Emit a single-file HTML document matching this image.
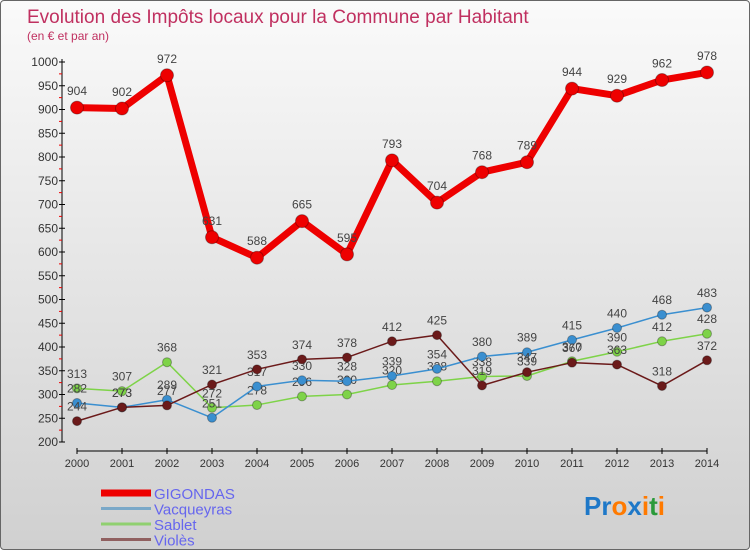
<!DOCTYPE html>
<html><head><meta charset="utf-8"><style>
body{margin:0}
#w{width:748px;height:548px;border:1px solid #666;border-radius:4px;overflow:hidden;background:linear-gradient(#fafafa,#d0d0d0);position:relative;font-family:"Liberation Sans",sans-serif}
</style></head><body>
<div id="w">
<svg id="s" width="748" height="548" xmlns="http://www.w3.org/2000/svg"></svg>
</div>
<script>
const years=["2000","2001","2002","2003","2004","2005","2006","2007","2008","2009","2010","2011","2012","2013","2014"];
const gigondas=[904,902,972,631,588,665,595,793,704,768,789,944,929,962,978];
const vacqueyras=[282,273,289,251,317,330,328,339,354,380,389,415,440,468,483];
const sablet=[313,307,368,272,278,296,300,320,328,338,339,370,390,412,428];
const violes=[244,273,277,321,353,374,378,412,425,319,347,367,363,318,372];
const yTicks=[200,250,300,350,400,450,500,550,600,650,700,750,800,850,900,950,1000];
const NS="http://www.w3.org/2000/svg";
const s=document.getElementById('s');
const X=i=>76+i*45, Y=v=>441-(v-200)*0.475;
function mk(t,a,p){const e=document.createElementNS(NS,t);for(const k in a)e.setAttribute(k,a[k]);(p||s).appendChild(e);return e;}
let t=mk('text',{x:26,y:22,'font-size':19,fill:'#c03060'});t.textContent='Evolution des Impôts locaux pour la Commune par Habitant';

t=mk('text',{x:26,y:39,'font-size':12,fill:'#c03060'});t.textContent='(en € et par an)';

// y axis
let ax=mk('line',{x1:61,y1:58,x2:61,y2:441,stroke:'#000'});
yTicks.forEach(v=>{mk('line',{x1:58,y1:Y(v),x2:64,y2:Y(v),stroke:'#000'});
 if(v<1000)mk('line',{x1:58,y1:Y(v+25),x2:61,y2:Y(v+25),stroke:'#e00'});
 const l=mk('text',{x:57,y:Y(v)+4,'font-size':12,fill:'#333','text-anchor':'end'});l.textContent=v;
 });
ax=mk('line',{x1:76,y1:450,x2:706,y2:450,stroke:'#000'});
years.forEach((y,i)=>{mk('line',{x1:X(i),y1:447,x2:X(i),y2:453,stroke:'#000'});
 const l=mk('text',{x:X(i),y:466,'font-size':11,fill:'#333','text-anchor':'middle'});l.textContent=y;
 });
function series(d,c,w,r,name){
 const g=mk('g',{});
 mk('polyline',{points:d.map((v,i)=>X(i)+','+Y(v)).join(' '),fill:'none',stroke:c,'stroke-width':w,'stroke-linejoin':'round'},g);
 d.forEach((v,i)=>{const p=mk('circle',{cx:X(i),cy:Y(v),r:r,fill:c,stroke:'rgba(0,0,0,0.3)'},g);
  
  const l=mk('text',{x:X(i),y:Y(v)-r-6,'font-size':12,fill:'#444','text-anchor':'middle'},g);l.textContent=v;
  });
}
series(sablet,'#7ed348',1.5,4.5,'sablet');
series(vacqueyras,'#3a8fd0',1.5,4.5,'vacqueyras');
series(violes,'#6b1a1a',1.5,4.5,'violes');
series(gigondas,'#ee0000',7,6.5,'gigondas');
const leg=[['GIGONDAS','#ee0000',7],['Vacqueyras','#7aa8c8',3],['Sablet','#90d070',3],['Violès','#906060',3]];
leg.forEach((l,i)=>{const y=492+i*15.5;const g=mk('g',{});
 mk('line',{x1:100,y1:y,x2:150,y2:y,stroke:l[1],'stroke-width':l[2]},g);
 const tx=mk('text',{x:153,y:y+6,'font-size':15,fill:'#6666ee'},g);tx.textContent=l[0];});
const lg=mk('text',{x:583,y:514,'font-size':26,'font-weight':'bold'});
[['Pr','#1e78c8'],['o','#ff7a00'],['x','#1e78c8'],['i','#ff7a00'],['t','#2a9a3a'],['i','#ff7a00']].forEach(p=>{const ts=mk('tspan',{fill:p[1]},lg);ts.textContent=p[0];});
</script>
</body></html>
